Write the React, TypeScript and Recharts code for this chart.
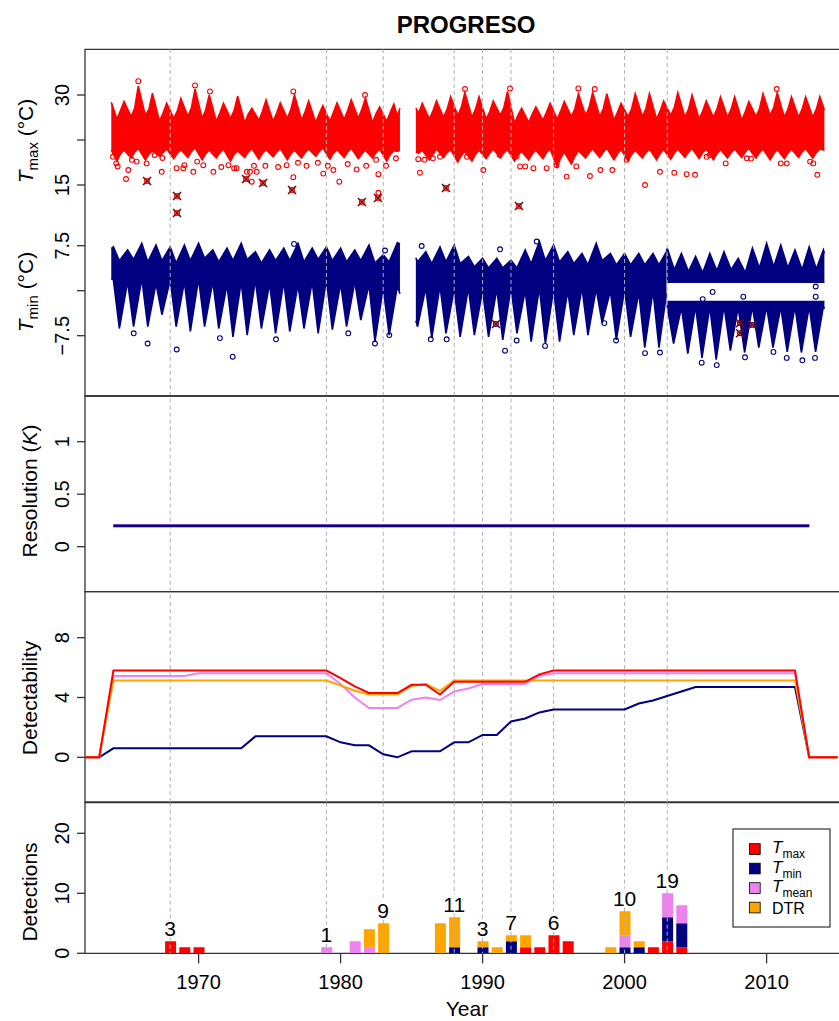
import React from 'react';
import { ComposedChart, Area, Line, Bar, Scatter, XAxis, YAxis, ReferenceLine, ReferenceArea } from 'recharts';

const FONT = '"Liberation Sans", Arial, Helvetica, sans-serif';
const AX = '#333333';
const RED = '#FF0000';
const NAVY = '#000080';
const VIOLET = '#EE82EE';
const ORANGE = '#FFA500';
const DARKRED = '#8B0000';
const DASH = '#B0B0B0';

const X_MIN = 1962;
const X_MAX = 2015.24;
const CW = 845;

// ---------- years ----------
const yearsA = [1964, 1965, 1966, 1967, 1968, 1969, 1970, 1971, 1972, 1973, 1974, 1975, 1976, 1977, 1978, 1979, 1980, 1981, 1982, 1983];
const yearsB = [1985, 1986, 1987, 1988, 1989, 1990, 1991, 1992, 1993, 1994, 1995, 1996, 1997, 1998, 1999, 2000, 2001, 2002, 2003, 2004, 2005, 2006, 2007, 2008, 2009, 2010, 2011, 2012, 2013];
const yearsB2 = [1986, 1987, 1988, 1989, 1990, 1991, 1992, 1993, 1994, 1995, 1996, 1997, 1998, 1999, 2000, 2001, 2002];
const yearsC = [2003, 2004, 2005, 2006, 2007, 2008, 2009, 2010, 2011, 2012, 2013];

// ---------- Tmax envelope (deg C) ----------
const tmaxPeakA = [28.9, 31.5, 30.3, 28.6, 29.4, 31.0, 30.0, 28.6, 29.8, 27.8, 29.2, 28.7, 30.0, 29.0, 28.2, 28.7, 29.2, 29.5, 28.0, 28.5];
const tmaxTroughA = [26.0, 26.4, 26.6, 25.6, 26.1, 26.4, 26.1, 25.6, 26.1, 25.4, 25.8, 25.6, 26.1, 25.8, 25.4, 25.6, 25.9, 26.1, 25.4, 25.6];
const tmaxShoulderA = [27.4, 27.8, 27.6, 27.0, 27.3, 27.9, 27.5, 27.0, 27.4, 26.8, 27.3, 27.0, 27.6, 27.2, 26.9, 27.1, 27.4, 27.6, 26.9, 27.1];
const tmaxDipA = [19.0, 19.5, 19.2, 19.8, 19.4, 19.6, 19.2, 19.5, 19.0, 19.6, 19.3, 19.7, 19.2, 19.5, 19.8, 19.3, 19.6, 19.4, 19.5, 19.0];
const tmaxLowMidA = [20.2, 20.5, 20.1, 20.4, 20.3, 20.6, 20.2, 20.4, 20.1, 20.5, 20.3, 20.5, 20.2, 20.4, 20.6, 20.3, 20.5, 20.2, 20.4, 20.1];
const tmaxBaseA = [20.8, 21.1, 20.7, 21.0, 20.9, 21.2, 20.8, 21.0, 20.7, 21.1, 20.9, 21.1, 20.8, 21.0, 21.2, 20.9, 21.1, 20.8, 21.0, 20.7];
const tmaxEdgesA = [[1963.85, 20.8, 28.8], [1984.0, 20.6, 26.5], [1984.18, 20.8, 27.8]];

const tmaxPeakB = [28.6, 29.0, 29.7, 30.4, 29.7, 29.0, 30.6, 27.8, 28.0, 28.6, 28.9, 30.2, 30.4, 30.2, 28.6, 30.2, 30.2, 29.0, 30.4, 30.0, 29.0, 29.7, 29.7, 28.9, 30.2, 30.4, 29.7, 29.7, 29.7];
const tmaxTroughB = [25.8, 26.0, 26.3, 26.6, 26.3, 26.0, 26.6, 25.3, 25.4, 25.8, 26.0, 26.4, 26.6, 26.4, 25.8, 26.4, 26.4, 26.0, 26.6, 26.3, 26.0, 26.3, 26.3, 25.8, 26.4, 26.6, 26.3, 26.3, 26.3];
const tmaxShoulderB = [27.0, 27.3, 27.6, 27.9, 27.6, 27.2, 27.9, 26.7, 26.8, 27.1, 27.3, 27.7, 27.9, 27.7, 27.1, 27.7, 27.7, 27.3, 27.9, 27.6, 27.3, 27.6, 27.6, 27.2, 27.7, 27.9, 27.6, 27.6, 27.6];
const tmaxDipB = [19.5, 19.2, 19.6, 18.8, 19.0, 19.4, 19.5, 19.0, 19.2, 19.4, 18.0, 18.5, 19.5, 19.6, 19.2, 19.0, 19.5, 19.2, 19.3, 19.6, 19.4, 19.2, 19.5, 19.6, 19.5, 19.2, 19.4, 19.6, 19.5];
const tmaxLowMidB = [20.3, 20.1, 20.4, 19.9, 20.1, 20.3, 20.4, 20.0, 20.2, 20.4, 19.5, 19.8, 20.4, 20.5, 20.2, 20.1, 20.4, 20.2, 20.3, 20.5, 20.4, 20.2, 20.4, 20.5, 20.4, 20.2, 20.3, 20.5, 20.4];
const tmaxBaseB = [20.8, 21.0, 20.9, 20.6, 20.8, 21.0, 20.9, 20.6, 20.8, 21.0, 20.5, 20.7, 21.0, 21.1, 20.9, 20.8, 21.0, 20.9, 21.0, 21.1, 21.0, 20.9, 21.0, 21.1, 21.0, 20.9, 21.0, 21.1, 21.0];
const tmaxEdgesB = [[1985.3, 20.5, 27.8], [2014.07, 20.8, 27.5]];

// ---------- Tmin envelope (deg C) ----------
const tminPeakA = [7.3, 6.8, 7.9, 7.6, 7.3, 7.6, 7.9, 6.8, 7.1, 7.9, 6.5, 6.8, 7.1, 7.9, 7.1, 7.3, 7.1, 6.8, 7.6, 6.0];
const tminTroughA = [5.0, 5.2, 4.8, 5.0, 4.6, 5.0, 5.4, 4.8, 5.0, 5.2, 4.6, 5.0, 5.0, 4.8, 5.2, 5.0, 4.8, 5.0, 4.6, 4.8];
const tminBaseA = [1.8, 1.5, 2.0, 1.2, 1.8, 1.5, 2.0, 1.5, 1.0, 1.5, 1.8, 1.2, 1.5, 1.0, 1.5, 1.8, 1.2, 1.5, 1.0, 0.5];
const tminSpikeA = [-6.3, -6.0, -6.0, -4.0, -6.0, -6.8, -6.0, -6.3, -7.7, -7.4, -6.3, -7.1, -6.8, -6.3, -7.1, -6.5, -6.0, -4.9, -8.5, -7.4];
const tminEdgesA = [[1963.85, 2.0, 7.0], [1984.0, 0.8, 8.0], [1984.18, -0.5, 7.8]];

const tminPeakB = [6.5, 7.3, 7.6, 5.7, 5.4, 5.4, 5.1, 6.8, 8.2, 7.6, 6.5, 6.2, 7.9, 6.2, 6.2, 6.2, 6.2];
const tminTroughB = [4.5, 4.8, 4.5, 4.0, 3.8, 3.8, 3.8, 4.5, 5.0, 4.8, 4.5, 4.3, 5.0, 4.3, 4.3, 4.3, 4.3];
const tminBaseB = [0.5, 0.8, 0.2, 0.5, 0.0, 0.3, 0.5, 0.0, 0.5, 0.2, 0.0, 0.5, 0.3, 0.0, 0.2, -0.3, 0.0];
const tminSpikeB = [-7.9, -7.1, -7.7, -7.4, -7.7, -8.2, -7.1, -8.5, -8.8, -8.5, -7.4, -7.4, -5.4, -8.2, -7.7, -9.5, -9.5];
const tminEdgesB = [[1985.3, -5.0, 5.5], [1985.42, -6.0, 4.8], [2002.95, -0.5, 6.5]];

const tminUpPeak = [7.1, 6.2, 5.7, 6.2, 6.5, 5.4, 7.1, 7.9, 7.6, 6.8, 7.3];
const tminUpTrough = [3.5, 3.2, 3.0, 3.3, 3.5, 3.0, 3.8, 4.0, 3.8, 3.5, 3.6];
const tminUpBottom = 1.4;
const tminUpEdges = [[2002.97, 1.4, 6.5], [2014.0, 1.4, 6.8], [2014.07, 1.4, 6.2]];

const tminLowBase = [-2.6, -2.8, -2.6, -2.7, -2.5, -2.8, -2.6, -2.6, -2.7, -2.6, -2.6];
const tminLowSpike = [-8.8, -10.5, -11.2, -11.5, -10.0, -10.3, -9.5, -9.5, -10.2, -10.3, -10.2];
const tminLowTop = -1.8;
const tminLowEdges = [[2002.97, -2.6, -1.8], [2014.0, -2.6, -1.8], [2014.07, -3.0, -1.8]];

// ---------- isolated points ----------
const tmaxOutliers = [
  [1963.97, 19.7], [1964.2, 18.6], [1964.3, 18.1], [1964.89, 16.0], [1965.05, 17.5], [1965.3, 19.2], [1965.64, 18.9], [1966.34, 18.6],
  [1966.9, 20.0], [1967.4, 17.2], [1967.45, 19.5], [1968.45, 17.8], [1968.92, 17.8], [1969.0, 18.3], [1969.63, 17.2], [1969.9, 18.9],
  [1970.33, 18.3], [1971.04, 17.2], [1971.6, 18.0], [1972.1, 18.3], [1972.5, 17.8], [1972.68, 17.8], [1973.4, 17.2], [1973.62, 17.2],
  [1973.74, 15.55], [1973.9, 18.2], [1974.09, 17.2], [1974.7, 18.2], [1975.6, 18.0], [1976.2, 18.3], [1976.67, 16.3], [1977.0, 18.7],
  [1977.6, 18.2], [1978.4, 18.7], [1978.78, 16.9], [1979.1, 18.2], [1979.49, 17.5], [1979.91, 15.55], [1980.5, 18.5], [1981.13, 17.6],
  [1981.8, 18.2], [1982.5, 19.2], [1982.66, 16.8], [1982.66, 13.7], [1983.2, 18.2], [1983.9, 19.45],
  [1985.47, 19.3], [1985.59, 17.05], [1985.9, 19.2], [1986.5, 19.45], [1987.0, 19.7], [1988.9, 19.7], [1990.05, 17.5], [1991.2, 20.0],
  [1992.4, 19.8], [1992.64, 18.1], [1993.0, 18.1], [1993.58, 17.8], [1994.51, 17.8], [1995.2, 18.3], [1995.92, 16.4], [1996.6, 18.1],
  [1997.56, 16.5], [1998.3, 17.5], [1999.14, 17.5], [2000.15, 19.2], [2001.44, 15.0], [2002.49, 17.2], [2003.5, 17.05], [2004.37, 16.8],
  [2004.96, 16.7], [2005.78, 19.7], [2006.0, 20.0], [2007.12, 18.6], [2008.6, 19.45], [2008.9, 19.4], [2011.0, 18.6], [2011.42, 18.6],
  [2013.06, 18.9], [2013.29, 18.6], [2013.57, 16.7],
  [1965.75, 32.3], [1969.75, 31.6], [1970.8, 30.6], [1976.67, 30.6], [1981.72, 30.0], [1988.76, 31.0], [1991.93, 31.1], [1996.74, 31.1],
  [1997.9, 31.0], [2010.71, 31.0],
];
const tminOutliers = [
  [1965.43, -7.1], [1966.41, -8.8], [1968.46, -9.8], [1971.5, -7.9], [1972.4, -11.0], [1975.45, -8.1], [1980.54, -7.1], [1982.42, -8.8],
  [1983.43, -7.4], [1976.72, 7.8], [1983.13, 6.7], [1985.71, 7.45], [1986.35, -8.1], [1987.47, -8.1], [1991.23, 6.9], [1991.58, -10.0],
  [1992.4, -8.3], [1993.81, 8.2], [1994.4, -9.2], [1998.57, -5.4], [1999.4, -8.3], [2001.44, -10.4], [2002.49, -10.3], [2005.43, -12.0],
  [2006.49, -12.4], [2008.48, -11.1], [2010.48, -10.2], [2011.42, -11.2], [2012.52, -11.6], [2013.41, -11.2], [2006.2, -0.2],
  [2005.5, -1.4], [2008.36, -1.0], [2013.46, 0.7], [2013.46, -1.0],
];
const tmaxFlagged = [[1966.37, 15.67], [1968.48, 13.17], [1968.48, 10.33], [1973.34, 16.0], [1974.54, 15.33], [1976.58, 14.17], [1981.5, 12.17], [1982.63, 12.83], [1987.42, 14.5], [1992.56, 11.5]];
const tminFlagged = [[1990.94, -5.55], [2008.13, -5.4], [2008.13, -7.1], [2008.99, -5.7]];

// ---------- detection years (dashed lines) ----------
const breakYears = [1968, 1979, 1983, 1988, 1990, 1992, 1995, 2000, 2003];
const breakCounts = [3, 1, 9, 11, 3, 7, 6, 10, 19];

// ---------- resolution ----------
const resYears = [1964, 2013];
const resValues = [0.2, 0.2];

// ---------- detectability ----------
const detectYears = [1962, 1963, 1964, 1965, 1966, 1967, 1968, 1969, 1970, 1971, 1972, 1973, 1974, 1975, 1976, 1977, 1978, 1979, 1980, 1981, 1982, 1983, 1984, 1985, 1986, 1987, 1988, 1989, 1990, 1991, 1992, 1993, 1994, 1995, 1996, 1997, 1998, 1999, 2000, 2001, 2002, 2003, 2004, 2005, 2006, 2007, 2008, 2009, 2010, 2011, 2012, 2013, 2014, 2015];
const detectTmax = [0, 0, 5.8, 5.8, 5.8, 5.8, 5.8, 5.8, 5.8, 5.8, 5.8, 5.8, 5.8, 5.8, 5.8, 5.8, 5.8, 5.8, 5.3, 4.75, 4.3, 4.3, 4.3, 4.85, 4.85, 4.2, 5.05, 5.05, 5.05, 5.05, 5.05, 5.05, 5.55, 5.8, 5.8, 5.8, 5.8, 5.8, 5.8, 5.8, 5.8, 5.8, 5.8, 5.8, 5.8, 5.8, 5.8, 5.8, 5.8, 5.8, 5.8, 0, 0, 0];
const detectTmin = [0, 0, 0.6, 0.6, 0.6, 0.6, 0.6, 0.6, 0.6, 0.6, 0.6, 0.6, 1.4, 1.4, 1.4, 1.4, 1.4, 1.4, 1.0, 0.8, 0.8, 0.2, 0.0, 0.4, 0.4, 0.4, 1.0, 1.0, 1.5, 1.5, 2.4, 2.6, 3.0, 3.2, 3.2, 3.2, 3.2, 3.2, 3.2, 3.6, 3.8, 4.1, 4.4, 4.7, 4.7, 4.7, 4.7, 4.7, 4.7, 4.7, 4.7, 0, 0, 0];
const detectTmean = [0, 0, 5.44, 5.44, 5.44, 5.44, 5.44, 5.44, 5.62, 5.62, 5.62, 5.62, 5.62, 5.62, 5.62, 5.62, 5.62, 5.62, 4.9, 4.0, 3.3, 3.3, 3.3, 3.85, 4.0, 3.83, 4.4, 4.6, 4.9, 4.9, 4.9, 4.9, 5.44, 5.62, 5.62, 5.62, 5.62, 5.62, 5.62, 5.62, 5.62, 5.62, 5.62, 5.62, 5.62, 5.62, 5.62, 5.62, 5.62, 5.62, 5.62, 0, 0, 0];
const detectDTR = [0, 0, 5.13, 5.13, 5.13, 5.13, 5.13, 5.13, 5.13, 5.13, 5.13, 5.13, 5.13, 5.13, 5.13, 5.13, 5.13, 5.13, 4.8, 4.45, 4.2, 4.2, 4.2, 4.77, 4.9, 4.44, 5.13, 5.13, 5.13, 5.13, 5.13, 5.13, 5.13, 5.13, 5.13, 5.13, 5.13, 5.13, 5.13, 5.13, 5.13, 5.13, 5.13, 5.13, 5.13, 5.13, 5.13, 5.13, 5.13, 5.13, 5.13, 0, 0, 0];

// ---------- detections (bars) ----------
const barYears = [1968, 1969, 1970, 1979, 1981, 1982, 1983, 1987, 1988, 1990, 1991, 1992, 1993, 1994, 1995, 1996, 1999, 2000, 2001, 2002, 2003, 2004];
const barTmax = [2, 1, 1, 0, 0, 0, 0, 0, 0, 0, 0, 0, 1, 1, 3, 2, 0, 0, 0, 1, 2, 1];
const barTmin = [0, 0, 0, 0, 0, 0, 0, 0, 1, 1, 0, 2, 0, 0, 0, 0, 0, 1, 1, 0, 4, 4];
const barTmean = [0, 0, 0, 1, 2, 1, 0, 0, 0, 0, 0, 0, 0, 0, 0, 0, 0, 2, 0, 0, 4, 3];
const barDTR = [0, 0, 0, 0, 0, 3, 5, 5, 5, 1, 1, 1, 2, 0, 0, 0, 1, 4, 1, 0, 0, 0];

const xTicks = [1970, 1980, 1990, 2000, 2010];

// ---------- build rows ----------
const pt = (x: number, lo: number, hi: number) => ({ x, band: [lo, hi] });

const tmaxBandA = (() => {
  const r: any[] = [pt(tmaxEdgesA[0][0], tmaxEdgesA[0][1], tmaxEdgesA[0][2])];
  yearsA.forEach((y, i) => {
    r.push(pt(y + 0.25, tmaxDipA[i], tmaxTroughA[i]));
    r.push(pt(y + 0.5, tmaxLowMidA[i], tmaxShoulderA[i]));
    r.push(pt(y + 0.75, tmaxBaseA[i], tmaxPeakA[i]));
  });
  r.push(pt(tmaxEdgesA[1][0], tmaxEdgesA[1][1], tmaxEdgesA[1][2]));
  r.push(pt(tmaxEdgesA[2][0], tmaxEdgesA[2][1], tmaxEdgesA[2][2]));
  return r;
})();

const tmaxBandB = (() => {
  const r: any[] = [pt(tmaxEdgesB[0][0], tmaxEdgesB[0][1], tmaxEdgesB[0][2])];
  yearsB.forEach((y, i) => {
    if (y + 0.25 > tmaxEdgesB[0][0]) r.push(pt(y + 0.25, tmaxDipB[i], tmaxTroughB[i]));
    r.push(pt(y + 0.5, tmaxLowMidB[i], tmaxShoulderB[i]));
    r.push(pt(y + 0.75, tmaxBaseB[i], tmaxPeakB[i]));
  });
  r.push(pt(tmaxEdgesB[1][0], tmaxEdgesB[1][1], tmaxEdgesB[1][2]));
  return r;
})();

const tminBandA = (() => {
  const r: any[] = [pt(tminEdgesA[0][0], tminEdgesA[0][1], tminEdgesA[0][2])];
  yearsA.forEach((y, i) => {
    r.push(pt(y, tminBaseA[i], tminPeakA[i]));
    r.push(pt(y + 0.42, tminSpikeA[i], tminTroughA[i]));
  });
  r.push(pt(tminEdgesA[1][0], tminEdgesA[1][1], tminEdgesA[1][2]));
  r.push(pt(tminEdgesA[2][0], tminEdgesA[2][1], tminEdgesA[2][2]));
  return r;
})();

const tminBandB = (() => {
  const r: any[] = [pt(tminEdgesB[0][0], tminEdgesB[0][1], tminEdgesB[0][2]), pt(tminEdgesB[1][0], tminEdgesB[1][1], tminEdgesB[1][2])];
  yearsB2.forEach((y, i) => {
    r.push(pt(y, tminBaseB[i], tminPeakB[i]));
    r.push(pt(y + 0.42, tminSpikeB[i], tminTroughB[i]));
  });
  r.push(pt(tminEdgesB[2][0], tminEdgesB[2][1], tminEdgesB[2][2]));
  return r;
})();

const tminBandUp = (() => {
  const r: any[] = [pt(tminUpEdges[0][0], tminUpEdges[0][1], tminUpEdges[0][2])];
  yearsC.forEach((y, i) => {
    r.push(pt(y, tminUpBottom, tminUpPeak[i]));
    r.push(pt(y + 0.5, tminUpBottom, tminUpTrough[i]));
  });
  r.push(pt(tminUpEdges[1][0], tminUpEdges[1][1], tminUpEdges[1][2]));
  r.push(pt(tminUpEdges[2][0], tminUpEdges[2][1], tminUpEdges[2][2]));
  return r;
})();

const tminBandLow = (() => {
  const r: any[] = [pt(tminLowEdges[0][0], tminLowEdges[0][1], tminLowEdges[0][2])];
  yearsC.forEach((y, i) => {
    r.push(pt(y, tminLowBase[i], tminLowTop));
    r.push(pt(y + 0.45, tminLowSpike[i], tminLowTop));
  });
  r.push(pt(tminLowEdges[1][0], tminLowEdges[1][1], tminLowEdges[1][2]));
  r.push(pt(tminLowEdges[2][0], tminLowEdges[2][1], tminLowEdges[2][2]));
  return r;
})();

const toXY = (arr: number[][]) => arr.map(([x, y]) => ({ x, y }));

const resRows = resYears.map((x, i) => ({ x, v: resValues[i] }));
const detectRows = detectYears.map((x, i) => ({ x, tmax: detectTmax[i], tmin: detectTmin[i], tmean: detectTmean[i], dtr: detectDTR[i] }));
const barRows = barYears.map((x, i) => ({ x, tmax: barTmax[i], tmin: barTmin[i], tmean: barTmean[i], dtr: barDTR[i] }));
const barTotal = (y: number) => {
  const i = barYears.indexOf(y);
  return i < 0 ? 0 : barTmax[i] + barTmin[i] + barTmean[i] + barDTR[i];
};
const countRows = breakYears.map((x, i) => ({ x, y: barTotal(x), label: breakCounts[i] }));

// ---------- ticks ----------
const makeYTick = (fmt: (v: number) => string) => (p: any) => {
  const { x, y, payload } = p;
  const lab = fmt(payload.value);
  const bx = x - 16;
  return (
    <g>
      <line x1={x - 8} x2={x} y1={y} y2={y} stroke={AX} strokeWidth={1.3} />
      {lab ? (
        <text x={bx} y={y} transform={`rotate(-90 ${bx} ${y})`} textAnchor="middle" fontSize={20} fontFamily={FONT} fill="#000">
          {lab}
        </text>
      ) : null}
    </g>
  );
};
const fmtTmax = (v: number) => (v === 15 || v === 30 ? String(v) : '');
const fmtTmin = (v: number) => (v === 7.5 ? '7.5' : v === -7.5 ? '\u22127.5' : '');
const fmtPlain = (v: number) => String(v);

const XTick = (p: any) => (
  <g>
    <line x1={p.x} x2={p.x} y1={p.y} y2={p.y + 10} stroke={AX} strokeWidth={1.3} />
    <text x={p.x} y={p.y + 36} textAnchor="middle" fontSize={20} fontFamily={FONT} fill="#000">
      {p.payload.value}
    </text>
  </g>
);

const circleShape = (color: string) => (p: any) => (
  <circle cx={p.cx} cy={p.cy} r={2.4} fill="none" stroke={color} strokeWidth={1.1} />
);
const flagShape = (color: string) => (p: any) => (
  <g>
    <circle cx={p.cx} cy={p.cy} r={2.4} fill="none" stroke={color} strokeWidth={1.1} />
    <path d={`M${p.cx - 4},${p.cy - 4}L${p.cx + 4},${p.cy + 4}M${p.cx - 4},${p.cy + 4}L${p.cx + 4},${p.cy - 4}`} stroke={DARKRED} strokeWidth={1.6} />
  </g>
);
const countShape = (p: any) => (
  <text x={p.cx} y={p.cy - 13 + 7.5} textAnchor="middle" fontSize={21} fontFamily={FONT} fill="#000">
    {p.payload.label}
  </text>
);

const xAxisHidden = <XAxis type="number" dataKey="x" domain={[X_MIN, X_MAX]} allowDataOverflow hide />;

const P1 = { tmax: [-20.167, 37.617], tmin: [-17.55, 40.233] };
const P2 = [-0.4286, 1.435];
const P3 = [-2.99, 11.077];
const P4 = [0, 25.1];

function Panel1() {
  return (
    <ComposedChart width={CW} height={400} margin={{ top: 49.3, right: 4, bottom: 4, left: 0 }}>
      {xAxisHidden}
      <YAxis yAxisId="tmax" width={85} type="number" domain={P1.tmax} allowDataOverflow ticks={[15, 22.5, 30]} interval={0}
        axisLine={false} tickLine={false} tickSize={0} tickMargin={0} tick={makeYTick(fmtTmax)} />
      <YAxis yAxisId="tmin" mirror type="number" domain={P1.tmin} allowDataOverflow ticks={[-7.5, 0, 7.5]} interval={0}
        axisLine={false} tickLine={false} tickSize={0} tickMargin={0} tick={makeYTick(fmtTmin)} />
      <Area yAxisId="tmax" data={tmaxBandA} dataKey="band" type="linear" stroke={RED} strokeWidth={1.6} fill={RED} fillOpacity={1} dot={false} activeDot={false} isAnimationActive={false} />
      <Area yAxisId="tmax" data={tmaxBandB} dataKey="band" type="linear" stroke={RED} strokeWidth={1.6} fill={RED} fillOpacity={1} dot={false} activeDot={false} isAnimationActive={false} />
      <Area yAxisId="tmin" data={tminBandA} dataKey="band" type="linear" stroke={NAVY} strokeWidth={1.6} fill={NAVY} fillOpacity={1} dot={false} activeDot={false} isAnimationActive={false} />
      <Area yAxisId="tmin" data={tminBandB} dataKey="band" type="linear" stroke={NAVY} strokeWidth={1.6} fill={NAVY} fillOpacity={1} dot={false} activeDot={false} isAnimationActive={false} />
      <Area yAxisId="tmin" data={tminBandUp} dataKey="band" type="linear" stroke={NAVY} strokeWidth={1.6} fill={NAVY} fillOpacity={1} dot={false} activeDot={false} isAnimationActive={false} />
      <Area yAxisId="tmin" data={tminBandLow} dataKey="band" type="linear" stroke={NAVY} strokeWidth={1.6} fill={NAVY} fillOpacity={1} dot={false} activeDot={false} isAnimationActive={false} />
      <Scatter yAxisId="tmax" data={toXY(tmaxOutliers)} dataKey="y" shape={circleShape(RED)} isAnimationActive={false} />
      <Scatter yAxisId="tmin" data={toXY(tminOutliers)} dataKey="y" shape={circleShape(NAVY)} isAnimationActive={false} />
      <Scatter yAxisId="tmax" data={toXY(tmaxFlagged)} dataKey="y" shape={flagShape(RED)} isAnimationActive={false} />
      <Scatter yAxisId="tmin" data={toXY(tminFlagged)} dataKey="y" shape={flagShape(NAVY)} isAnimationActive={false} />
      {breakYears.map((y) => (
        <ReferenceLine key={y} yAxisId="tmax" x={y} stroke={DASH} strokeDasharray="4 3" strokeWidth={1} />
      ))}
      <ReferenceArea yAxisId="tmax" x1={X_MIN} x2={X_MAX} y1={P1.tmax[0]} y2={P1.tmax[1]} fill="none" fillOpacity={0} stroke={AX} strokeWidth={1.3} ifOverflow="visible" />
    </ComposedChart>
  );
}

function Panel2() {
  return (
    <ComposedChart width={CW} height={220} margin={{ top: 16, right: 4, bottom: 8.3, left: 0 }} data={resRows}>
      {xAxisHidden}
      <YAxis width={85} type="number" domain={P2} allowDataOverflow ticks={[0, 0.5, 1]} interval={0}
        axisLine={false} tickLine={false} tickSize={0} tickMargin={0} tick={makeYTick(fmtPlain)} />
      {breakYears.map((y) => (
        <ReferenceLine key={y} x={y} stroke={DASH} strokeDasharray="4 3" strokeWidth={1} />
      ))}
      <Line dataKey="v" type="linear" stroke={RED} strokeWidth={3} dot={false} activeDot={false} isAnimationActive={false} />
      <Line dataKey="v" type="linear" stroke={ORANGE} strokeWidth={3} dot={false} activeDot={false} isAnimationActive={false} />
      <Line dataKey="v" type="linear" stroke={VIOLET} strokeWidth={3.4} dot={false} activeDot={false} isAnimationActive={false} />
      <Line dataKey="v" type="linear" stroke={NAVY} strokeWidth={2.6} dot={false} activeDot={false} isAnimationActive={false} />
      <ReferenceArea x1={X_MIN} x2={X_MAX} y1={P2[0]} y2={P2[1]} fill="none" fillOpacity={0} stroke={AX} strokeWidth={1.3} ifOverflow="visible" />
    </ComposedChart>
  );
}

function Panel3() {
  return (
    <ComposedChart width={CW} height={230} margin={{ top: 11.7, right: 4, bottom: 8, left: 0 }} data={detectRows}>
      {xAxisHidden}
      <YAxis width={85} type="number" domain={P3} allowDataOverflow ticks={[0, 4, 8]} interval={0}
        axisLine={false} tickLine={false} tickSize={0} tickMargin={0} tick={makeYTick(fmtPlain)} />
      {breakYears.map((y) => (
        <ReferenceLine key={y} x={y} stroke={DASH} strokeDasharray="4 3" strokeWidth={1} />
      ))}
      <Line dataKey="tmin" type="linear" stroke={NAVY} strokeWidth={2} dot={false} activeDot={false} isAnimationActive={false} />
      <Line dataKey="tmean" type="linear" stroke={VIOLET} strokeWidth={2} dot={false} activeDot={false} isAnimationActive={false} />
      <Line dataKey="dtr" type="linear" stroke={ORANGE} strokeWidth={2} dot={false} activeDot={false} isAnimationActive={false} />
      <Line dataKey="tmax" type="linear" stroke={RED} strokeWidth={2} dot={false} activeDot={false} isAnimationActive={false} />
      <ReferenceArea x1={X_MIN} x2={X_MAX} y1={P3[0]} y2={P3[1]} fill="none" fillOpacity={0} stroke={AX} strokeWidth={1.3} ifOverflow="visible" />
    </ComposedChart>
  );
}

function Panel4() {
  return (
    <ComposedChart width={CW} height={231} margin={{ top: 12.7, right: 4, bottom: 0, left: 0 }} data={barRows}>
      <XAxis type="number" dataKey="x" domain={[X_MIN, X_MAX]} allowDataOverflow ticks={xTicks} interval={0} height={67.7}
        axisLine={false} tickLine={false} tickSize={0} tickMargin={0} tick={XTick} />
      <YAxis width={85} type="number" domain={P4} allowDataOverflow ticks={[0, 10, 20]} interval={0}
        axisLine={false} tickLine={false} tickSize={0} tickMargin={0} tick={makeYTick(fmtPlain)} />
      <Bar dataKey="tmax" stackId="d" fill={RED} barSize={11} isAnimationActive={false} />
      <Bar dataKey="tmin" stackId="d" fill={NAVY} barSize={11} isAnimationActive={false} />
      <Bar dataKey="tmean" stackId="d" fill={VIOLET} barSize={11} isAnimationActive={false} />
      <Bar dataKey="dtr" stackId="d" fill={ORANGE} barSize={11} isAnimationActive={false} />
      {countRows.map((r) => (
        <ReferenceLine key={'t' + r.x} segment={[{ x: r.x, y: P4[1] }, { x: r.x, y: r.y + 3.75 }]} stroke={DASH} strokeDasharray="4 3" strokeWidth={1} ifOverflow="visible" />
      ))}
      {countRows.map((r) => (
        <ReferenceLine key={'b' + r.x} segment={[{ x: r.x, y: r.y + 0.6 }, { x: r.x, y: 0 }]} stroke={DASH} strokeDasharray="4 3" strokeWidth={1} ifOverflow="visible" />
      ))}
      <Scatter data={countRows} dataKey="y" shape={countShape} isAnimationActive={false} />
      <ReferenceArea x1={X_MIN} x2={X_MAX} y1={P4[0]} y2={P4[1]} fill="none" fillOpacity={0} stroke={AX} strokeWidth={1.3} ifOverflow="visible" />
    </ComposedChart>
  );
}

const legendItems = [
  { color: RED, main: 'T', sub: 'max' },
  { color: NAVY, main: 'T', sub: 'min' },
  { color: VIOLET, main: 'T', sub: 'mean' },
  { color: ORANGE, main: 'DTR', sub: '' },
];

export default function App() {
  return (
    <div style={{ position: 'absolute', left: 0, top: 0, width: 839, height: 1021, overflow: 'hidden', background: '#fff' }}>
      <div style={{ position: 'absolute', left: 0, top: 0 }}><Panel1 /></div>
      <div style={{ position: 'absolute', left: 0, top: 380 }}><Panel2 /></div>
      <div style={{ position: 'absolute', left: 0, top: 580 }}><Panel3 /></div>
      <div style={{ position: 'absolute', left: 0, top: 790 }}><Panel4 /></div>
      <svg style={{ position: 'absolute', left: 0, top: 0, pointerEvents: 'none' }} width={839} height={1021} fontFamily={FONT}>
        <text x={466} y={33} textAnchor="middle" fontSize={24} fontWeight="bold" fill="#000">PROGRESO</text>
        <text x={33} y={141} transform="rotate(-90 33 141)" textAnchor="middle" fontSize={21} fill="#000">
          <tspan fontStyle="italic">T</tspan>
          <tspan fontSize={15} dy={5}>max</tspan>
          <tspan dy={-5}> (°C)</tspan>
        </text>
        <text x={33} y={292} transform="rotate(-90 33 292)" textAnchor="middle" fontSize={21} fill="#000">
          <tspan fontStyle="italic">T</tspan>
          <tspan fontSize={15} dy={5}>min</tspan>
          <tspan dy={-5}> (°C)</tspan>
        </text>
        <text x={37} y={491} transform="rotate(-90 37 491)" textAnchor="middle" fontSize={21} fill="#000">
          Resolution (<tspan fontStyle="italic">K</tspan>)
        </text>
        <text x={37} y={698} transform="rotate(-90 37 698)" textAnchor="middle" fontSize={21} fill="#000">Detectability</text>
        <text x={37} y={892} transform="rotate(-90 37 892)" textAnchor="middle" fontSize={21} fill="#000">Detections</text>
        <text x={467} y={1016} textAnchor="middle" fontSize={21} fill="#000">Year</text>
        <rect x={733} y={829} width={97} height={98} fill="#fff" stroke={AX} strokeWidth={1.2} />
        {legendItems.map((it, i) => {
          const cy = 849 + i * 19.5;
          return (
            <g key={i}>
              <rect x={749.5} y={cy - 5.3} width={10.7} height={10.7} fill={it.color} stroke="#000" strokeWidth={0.8} />
              {it.sub ? (
                <text x={772} y={cy + 4} fontSize={17} fill="#000">
                  <tspan fontStyle="italic">T</tspan>
                  <tspan fontSize={12} dy={5}>{it.sub}</tspan>
                </text>
              ) : (
                <text x={772} y={cy + 6} fontSize={16} fill="#000">{it.main}</text>
              )}
            </g>
          );
        })}
      </svg>
    </div>
  );
}
